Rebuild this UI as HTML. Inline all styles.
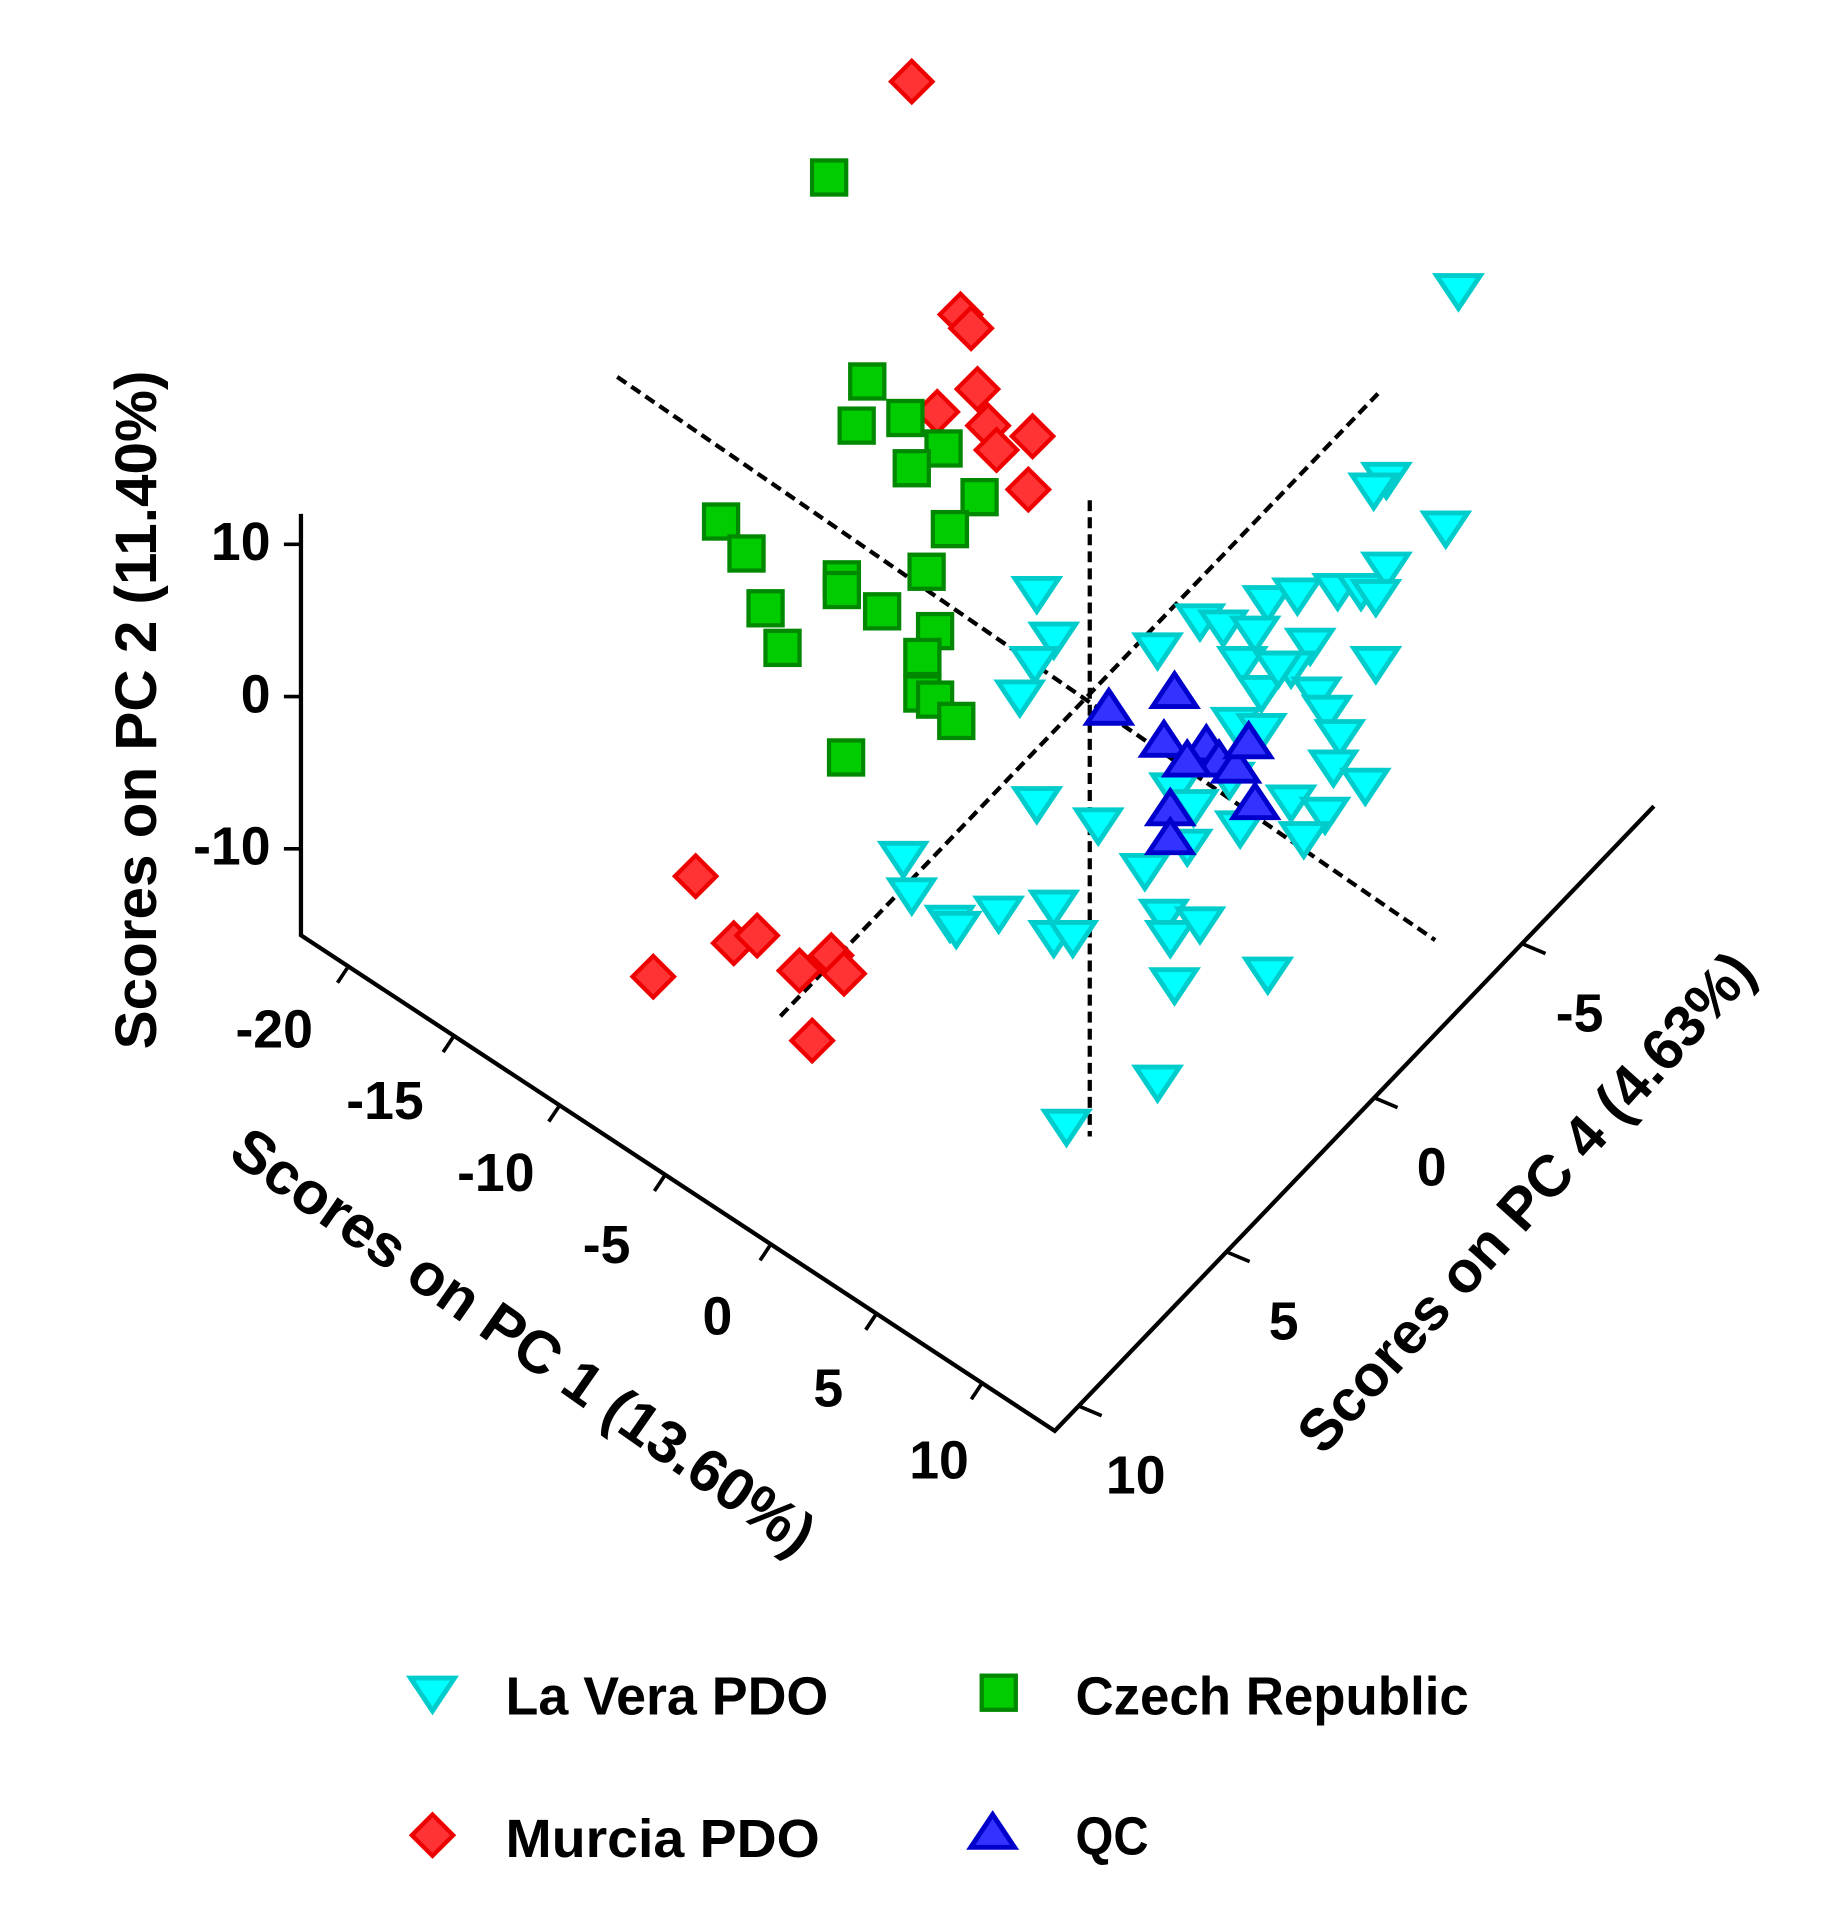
<!DOCTYPE html>
<html><head><meta charset="utf-8">
<style>
html,body{margin:0;padding:0;background:#fff;}
svg{display:block;}
text{font-family:"Liberation Sans",Arial,sans-serif;font-weight:bold;fill:#000;}
</style></head>
<body>
<svg id="chart" width="1827" height="1918" viewBox="0 0 1500 1575" xmlns="http://www.w3.org/2000/svg">
<rect width="1500" height="1575" fill="#fff"/>
<g id="axes"></g>
<g id="marks"></g>
<g id="legend"></g>
</svg>
<script>
// Projected scores (PC1-direction units, PC2 units)
const murciaX=[-8.3,-6.0,-5.5,-5.2,-7.1,-4.7,-2.6,-4.3,-2.8,-18.5,-20.5,-16.7,-15.6,-13.6,-12.1,-11.5,-13.0];
const murciaY=[40.4,25.1,24.2,20.2,18.7,17.8,17.1,16.2,13.6,-11.8,-18.4,-16.2,-15.7,-18.0,-17.0,-18.2,-22.6];
const czechX=[-12.2,-10.4,-10.9,-8.6,-6.8,-8.3,-5.1,-6.5,-17.3,-16.1,-15.2,-14.4,-11.6,-11.6,-9.7,-7.6,-7.2,-7.8,-7.8,-7.2,-6.2,-11.4];
const czechY=[34.1,20.7,17.8,18.3,16.3,15.0,13.1,11.0,11.5,9.4,5.8,3.2,7.7,7.0,5.6,8.2,4.3,2.6,0.2,-0.2,-1.6,-4.0];
const veraX=[17.5,14.1,13.5,16.9,-2.4,-1.6,-2.5,-3.2,3.3,5.3,6.4,8.5,9.9,11.8,12.9,14.1,13.6,7.9,10.5,7.3,9.6,8.2,10.8,11.3,7.0,8.2,11.9,11.6,13.1,9.6,11.2,10.2,7.2,4.1,5.0,4.7,-2.4,0.5,2.7,-8.7,-8.3,-6.5,-6.2,-4.2,-1.6,-1.6,-0.7,3.6,3.9,5.3,4.1,8.5,3.3,-1.0,13.6,6.7,9.0];
const veraY=[26.7,14.3,13.6,11.1,6.8,3.8,2.2,0,3.1,5.0,4.6,6.2,6.7,7.0,7.0,8.4,6.6,4.2,3.4,2.2,1.9,0.3,0.2,-1.0,-1.8,-2.2,-2.6,-4.6,-5.8,-6.9,-7.7,-9.3,-8.6,-6.1,-7.2,-9.8,-7.0,-8.4,-11.4,-10.6,-13.0,-14.8,-15.2,-14.2,-13.8,-15.8,-15.8,-14.4,-15.8,-14.9,-18.9,-18.2,-25.3,-28.2,2.2,-5.4,1.9];
const qcX=[1.0,4.1,3.6,5.6,6.2,7.0,7.6,7.9,3.9,3.9,4.7];
const qcY=[-0.8,0.3,-2.9,-3.2,-4.2,-4.6,-3.0,-7.0,-7.4,-9.3,-4.2];
const pc2Ticks=[10,0,-10];
const pc1Ticks=[-20,-15,-10,-5,0,5,10];
const pc4Ticks=[10,5,0,-5];
const dashX1=[-22.2,16.4], dashY1=[21.0,-16.0];
const dashX2=[-14.5,13.7], dashY2=[-21.0,19.9];
const dashX3=[0.1,0.1], dashY3=[12.9,-28.9];

const NS='http://www.w3.org/2000/svg';
function sx(a){return 893+a*17.4;}
function sy(b){return 572-b*12.5;}
function pc2Y(v){return 572-v*12.5;}
function pc1Pt(t){return [285+(t+20)*17.35, 795+(t+20)*11.4];}
function pc1LabelPt(t){return [225+(t+20)*18.2, 860+(t+20)*11.8];}
function pc4Pt(t){return [1250+(t+5)*(-24.3), 775+(t+5)*25.3];}
function mk(tag,attrs,parent){const e=document.createElementNS(NS,tag);for(const k in attrs)e.setAttribute(k,attrs[k]);parent.appendChild(e);return e;}

const axes=document.getElementById('axes');
const marks=document.getElementById('marks');
const legend=document.getElementById('legend');

let l=mk('polyline',{points:'247,422 247,768 866,1175 1358,662',fill:'none',stroke:'#000','stroke-width':3.5},axes);



pc2Ticks.forEach(v=>{
  const y=pc2Y(v);
  let t=mk('line',{x1:233,y1:y,x2:247,y2:y,stroke:'#000','stroke-width':3},axes);
  
  
  let tx=mk('text',{x:222,y:y+13,'font-size':44,'text-anchor':'end'},axes);
  tx.textContent=String(v);
  
  
});
pc1Ticks.forEach(v=>{
  const p=pc1Pt(v);
  let t=mk('line',{x1:p[0],y1:p[1],x2:p[0]-8,y2:p[1]+12,stroke:'#000','stroke-width':3},axes);
  
  
  const q=pc1LabelPt(v);
  let tx=mk('text',{x:q[0],y:q[1],'font-size':44,'text-anchor':'middle'},axes);
  tx.textContent=String(v);
  
  
});
pc4Ticks.forEach(v=>{
  const p=pc4Pt(v);
  let t=mk('line',{x1:p[0],y1:p[1],x2:p[0]+19,y2:p[1]+8,stroke:'#000','stroke-width':3},axes);
  
  
  let tx=mk('text',{x:p[0]+47,y:p[1]+72,'font-size':44,'text-anchor':'middle'},axes);
  tx.textContent=String(v);
  
  
});

let t2=mk('text',{x:0,y:0,'font-size':48,'text-anchor':'middle',transform:'translate(128,583) rotate(-90)'},axes);
t2.textContent='Scores on PC 2 (11.40%)';


let t1=mk('text',{x:0,y:0,'font-size':49,'text-anchor':'middle',transform:'translate(420,1115) rotate(35)'},axes);
t1.textContent='Scores on PC 1 (13.60%)';


let t4=mk('text',{x:0,y:0,'font-size':48,'text-anchor':'middle',transform:'translate(1265,998) rotate(-48)'},axes);
t4.textContent='Scores on PC 4 (4.63%)';



[[dashX1,dashY1],[dashX2,dashY2],[dashX3,dashY3]].forEach(d=>{
  let dl=mk('line',{x1:sx(d[0][0]),y1:sy(d[1][0]),x2:sx(d[0][1]),y2:sy(d[1][1]),stroke:'#000','stroke-width':3.5,'stroke-dasharray':'9,5'},axes);
  
  
});

function shape(kind,x,y,parent,s){
  s=s||1;
  if(kind==='down') return mk('polygon',{points:`${x-18*s},${y-12*s} ${x+18*s},${y-12*s} ${x},${y+15*s}`,fill:'#00ffff',stroke:'#00cccc','stroke-width':4,'stroke-linejoin':'miter'},parent);
  if(kind==='up') return mk('polygon',{points:`${x-18*s},${y+12*s} ${x+18*s},${y+12*s} ${x},${y-15*s}`,fill:'#3333ff',stroke:'#0000cc','stroke-width':4},parent);
  if(kind==='sq') return mk('rect',{x:x-14*s,y:y-14*s,width:28*s,height:28*s,fill:'#00cc00',stroke:'#008800','stroke-width':3.5},parent);
  return mk('polygon',{points:`${x},${y-17*s} ${x+17*s},${y} ${x},${y+17*s} ${x-17*s},${y}`,fill:'#ff3333',stroke:'#ee0000','stroke-width':3.5},parent);
}
function series(xs,ys,kind,name){
  for(let i=0;i<xs.length;i++){
    const e=shape(kind,sx(xs[i]),sy(ys[i]),marks);
    
    
  }
}
series(murciaX,murciaY,'dia','murcia-pdo-point');
series(czechX,czechY,'sq','czech-republic-point');
series(veraX,veraY,'down','la-vera-pdo-point');
series(qcX,qcY,'up','qc-point');

const leg=[['down',355,1390,415,'La Vera PDO','legend-la-vera-pdo',265],['sq',820,1390,883,'Czech Republic','legend-czech-republic',323],['dia',355,1507,415,'Murcia  PDO','legend-murcia-pdo',258],['up',815,1505,883,'QC','legend-qc',60]];
leg.forEach(g=>{
  const e=shape(g[0],g[1],g[2],legend);
  
  
  const t=mk('text',{x:g[3],y:g[2]+18,'font-size':44,'xml:space':'preserve',textLength:g[6],lengthAdjust:'spacingAndGlyphs'},legend);
  t.textContent=g[4];
  
  
});
</script>
</body></html>
